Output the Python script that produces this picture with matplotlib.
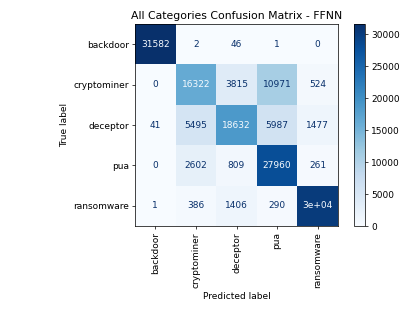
import numpy as np
import matplotlib
matplotlib.use("Agg")
import matplotlib.pyplot as plt

labels = ["backdoor", "cryptominer", "deceptor", "pua", "ransomware"]
cm = np.array([
    [31582, 2, 46, 1, 0],
    [0, 16322, 3815, 10971, 524],
    [41, 5495, 18632, 5987, 1477],
    [0, 2602, 809, 27960, 261],
    [1, 386, 1406, 290, 30110],
])


def cell_text(v):
    # same rule as sklearn's ConfusionMatrixDisplay
    g = format(v, ".2g")
    d = format(v, "d")
    return d if len(d) < len(g) else g


fig = plt.figure(figsize=(415 / 65, 311 / 65), dpi=65)
ax = fig.add_axes([135 / 415, 85 / 311, 203 / 415, 202 / 311])
cax = fig.add_axes([354 / 415, 85 / 311, 11 / 415, 202 / 311])

cmap = plt.get_cmap("Blues")
im = ax.imshow(cm, cmap=cmap, interpolation="nearest", aspect="auto")
thresh = (cm.max() + cm.min()) / 2.0
for i in range(cm.shape[0]):
    for j in range(cm.shape[1]):
        color = cmap(0.0) if cm[i, j] >= thresh else cmap(1.0)
        ax.text(j, i, cell_text(cm[i, j]), ha="center", va="center", color=color)

fig.colorbar(im, cax=cax)
ax.set_xticks(np.arange(len(labels)))
ax.set_yticks(np.arange(len(labels)))
ax.set_xticklabels(labels, rotation=90)
ax.set_yticklabels(labels)
ax.set_xlabel("Predicted label")
ax.set_ylabel("True label")
ax.set_title("All Categories Confusion Matrix - FFNN")

fig.savefig("out.png", dpi=65)
